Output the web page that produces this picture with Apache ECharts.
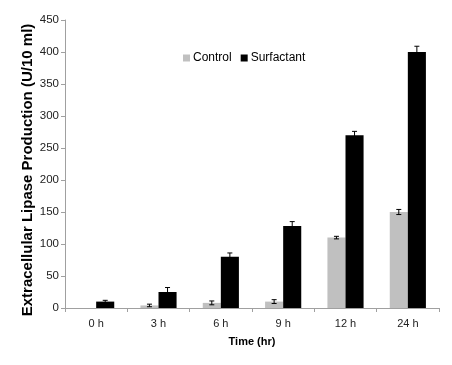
<!DOCTYPE html>
<html><head><meta charset="utf-8">
<script src="https://cdn.jsdelivr.net/npm/echarts@6/dist/echarts.min.js"></script>
<style>html,body{margin:0;padding:0;background:#fff}#c{width:452px;height:365px}</style>
</head><body><div id="c"></div>
<script>
var categories = ['0 h', '3 h', '6 h', '9 h', '12 h', '24 h'];
var controlValues = [0, 4, 8, 10, 110, 150];
var controlErrors = [0, 2, 3, 3, 2, 4];
var surfactantValues = [10, 25, 80, 128, 270, 400];
var surfactantErrors = [2, 7, 6, 7, 6, 9];
var yTicks = [0, 50, 100, 150, 200, 250, 300, 350, 400, 450];

var BW = 0.29;
function errSeries(vals, errs, side, color) {
  return {
    type: 'custom', z: 5,
    data: vals.map(function (v, i) { return [i, v, errs[i]]; }),
    renderItem: function (params, api) {
      var i = api.value(0), v = api.value(1), e = api.value(2);
      if (!e) return;
      var band = api.size([1, 0])[0];
      var off = side * band * BW / 2;
      var top = api.coord([i, v + e]);
      var bot = api.coord([i, v - e]);
      var x = top[0] + off;
      var hw = 2.5;
      var st = { stroke: color, lineWidth: 1 };
      return { type: 'group', children: [
        { type: 'line', shape: { x1: x, y1: top[1], x2: x, y2: bot[1] }, style: st },
        { type: 'line', shape: { x1: x - hw, y1: top[1], x2: x + hw, y2: top[1] }, style: st },
        { type: 'line', shape: { x1: x - hw, y1: bot[1], x2: x + hw, y2: bot[1] }, style: st }
      ]};
    }
  };
}

var chart = echarts.init(document.getElementById('c'), null, { renderer: 'canvas' });
chart.setOption({
  animation: false,
  textStyle: { fontFamily: 'Liberation Sans, Arial, sans-serif' },
  grid: { left: 65, right: 13, top: 20, bottom: 57 },
  legend: {
    data: ['Control', 'Surfactant'],
    top: 47, left: 178,
    itemWidth: 7, itemHeight: 7, itemGap: 9,
    icon: 'rect',
    textStyle: { fontSize: 12, color: '#000', padding: [0, 0, 0, -2] }
  },
  xAxis: {
    type: 'category', data: categories,
    name: 'Time (hr)', nameLocation: 'middle', nameGap: 28,
    nameTextStyle: { fontSize: 11, fontWeight: 'bold', color: '#000' },
    axisLine: { lineStyle: { color: '#a0a0a0' } },
    axisTick: { show: true, alignWithLabel: false, length: 4, lineStyle: { color: '#a0a0a0' } },
    axisLabel: { fontSize: 11, color: '#222', margin: 10 }
  },
  yAxis: {
    type: 'value', min: 0, max: 450, interval: 50,
    name: 'Extracellular Lipase Production (U/10 ml)', nameLocation: 'middle', nameGap: 30,
    nameMoveOverlap: false,
    nameTextStyle: { fontSize: 15, fontWeight: 'bold', color: '#000', padding: [0, 12, 0, 0] },
    axisLine: { show: true, lineStyle: { color: '#a0a0a0' } },
    axisTick: { show: true, length: 4, lineStyle: { color: '#a0a0a0' } },
    splitLine: { show: false },
    axisLabel: { fontSize: 11.5, color: '#222', margin: 6 }
  },
  series: [
    { name: 'Control', type: 'bar', data: controlValues, barWidth: (BW * 100) + '%', barGap: '0%',
      itemStyle: { color: '#c0c0c0' } },
    { name: 'Surfactant', type: 'bar', data: surfactantValues, barWidth: (BW * 100) + '%', barGap: '0%',
      itemStyle: { color: '#000' } },
    errSeries(controlValues, controlErrors, -1, '#000'),
    errSeries(surfactantValues, surfactantErrors, 1, '#000')
  ]
});
</script></body></html>
